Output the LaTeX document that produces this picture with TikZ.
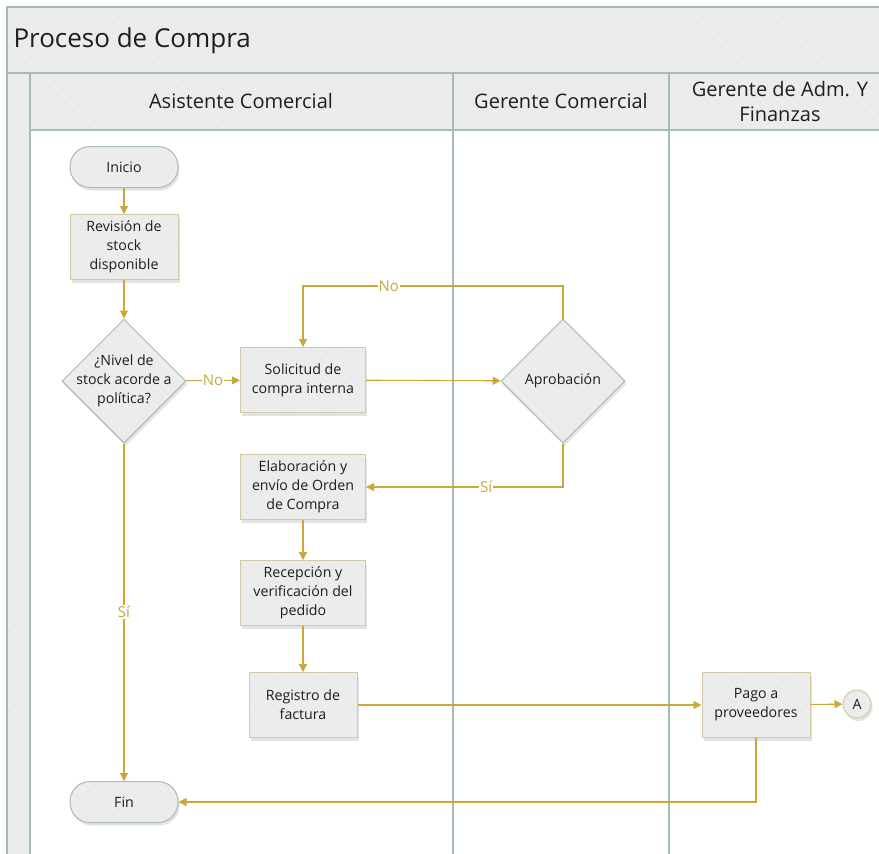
\documentclass[tikz,border=0pt]{standalone}
\usepackage{fontspec}
\setmainfont{Open Sans}
\usetikzlibrary{arrows.meta,shapes.geometric,shadows,patterns.meta}

\definecolor{lanefill}{HTML}{EBEBEB}
\definecolor{hatchline}{HTML}{F2F2F2}
\definecolor{laneline}{HTML}{A7BCB5}
\definecolor{flow}{HTML}{C9A73B}
\definecolor{boxline}{HTML}{D3C9A2}
\definecolor{ink}{HTML}{1E1E1E}

\tikzset{
  hatched/.style={preaction={fill=lanefill},
    pattern={Lines[angle=-45,distance=7pt,line width=0.6pt]}, pattern color=hatchline},
  nodefont/.style={font=\fontsize{14.2}{19}\selectfont, text=ink},
  softshadow/.style={drop shadow={opacity=0.22, shadow xshift=1.5pt, shadow yshift=-3pt}},
  process/.style={rectangle, softshadow, hatched, draw=boxline, line width=1pt,
    minimum width=125pt, minimum height=65pt, inner sep=1pt, align=center, nodefont},
  terminal/.style={rectangle, rounded corners=20pt, softshadow, hatched, draw=laneline,
    line width=1pt, minimum width=108pt, minimum height=41pt, nodefont},
  decision/.style={diamond, aspect=1, softshadow, hatched, draw=laneline, line width=1pt,
    minimum width=124pt, minimum height=124pt, inner sep=0pt},
  connector/.style={circle, softshadow, hatched, draw=boxline, line width=1pt,
    minimum size=28pt, inner sep=0pt, nodefont},
  flowline/.style={draw=flow, line width=1.1pt, -{Triangle[length=8pt,width=8pt]}},
  flowlabel/.style={fill=white, inner sep=1pt, text=flow, font=\fontsize{15}{17}\selectfont},
  laneborder/.style={draw=laneline, line width=1.3pt},
  headfont/.style={font=\fontsize{20}{25}\selectfont, text=ink, align=center},
}

\begin{document}
\begin{tikzpicture}[x=1pt, y=-1pt]
\useasboundingbox (0,0) rectangle (879,854);
\begin{scope}
\clip (0,0) rectangle (879,854);
% pool title band and left strip
\path[hatched, laneborder] (7,7) rectangle (895,73);
\path[hatched, laneborder] (7,73) rectangle (30,870);
% lane headers
\path[hatched, laneborder] (30,73) rectangle (453,130);
\path[hatched, laneborder] (453,73) rectangle (669,130);
\path[hatched, laneborder] (669,73) rectangle (895,130);
% lane separators
\draw[laneborder] (453,130) -- (453,870);
\draw[laneborder] (669,130) -- (669,870);
\end{scope}

\node[anchor=west, font=\fontsize{26}{30}\selectfont, text=ink] (pooltitle) at (10,41) {Proceso de Compra};
\node[headfont] (laneA) at (241,101) {Asistente Comercial};
\node[headfont] (laneB) at (561,101) {Gerente Comercial};
\node[headfont] (laneC) at (780,101) {Gerente de Adm. Y\\Finanzas};

% flow elements
\node[terminal] (inicio) at (124,167) {Inicio};
\node[process, minimum width=108pt] (revision) at (124,247) {Revisión de\\stock\\disponible};
\node[decision, label={[nodefont, align=center]center:¿Nivel de\\stock acorde a\\política?}] (nivel) at (124,381) {};
\node[process] (solicitud) at (303,380) {Solicitud de\\compra interna};
\node[decision, label={[nodefont]center:Aprobación}] (aprobacion) at (563,381) {};
\node[process] (orden) at (303,487) {Elaboración y\\envío de Orden\\de Compra};
\node[process] (recepcion) at (303,593) {Recepción y\\verificación del\\pedido};
\node[process, minimum width=108pt] (registro) at (303,705) {Registro de\\factura};
\node[process, minimum width=108pt] (pago) at (756,705) {Pago a\\proveedores};
\node[connector] (conA) at (857,704) {A};
\node[terminal] (fin) at (124,802) {Fin};

\coordinate (noRight) at (563,286);
\coordinate (noLeft) at (303,286);
\coordinate (siCorner) at (563,487);
\coordinate (pagoCorner) at (756,802);

% connectors
\draw[flowline] (inicio) -- (revision);
\draw[flowline] (revision) -- (nivel);
\draw[flowline] (nivel) -- node[flowlabel]{No} (solicitud);
\draw[flowline] (solicitud) -- (aprobacion);
\draw[flowline] (aprobacion.north) -- (noRight) -- node[flowlabel, pos=0.67]{No} (noLeft) -- (solicitud.north);
\draw[flowline] (aprobacion.south) -- (siCorner) -- node[flowlabel, pos=0.39]{Sí} (orden.east);
\draw[flowline] (orden) -- (recepcion);
\draw[flowline] (recepcion) -- (registro);
\draw[flowline] (registro) -- (pago);
\draw[flowline] (pago) -- (conA);
\draw[flowline] (pago.south) -- (pagoCorner) -- (fin.east);
\draw[flowline] (nivel.south) -- node[flowlabel, pos=0.5]{Sí} (fin.north);
\end{tikzpicture}
\end{document}
